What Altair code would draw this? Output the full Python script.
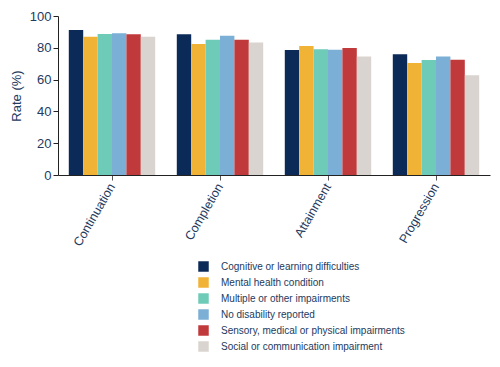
import altair as alt
import pandas as pd

measures = ["Continuation", "Completion", "Attainment", "Progression"]
groups = [
    "Cognitive or learning difficulties",
    "Mental health condition",
    "Multiple or other impairments",
    "No disability reported",
    "Sensory, medical or physical impairments",
    "Social or communication impairment",
]
colors = ["#0c2a57", "#f0b335", "#6ecbb8", "#7bafd6", "#c0393b", "#d9d4cf"]

cognitive = [91.2, 88.5, 78.6, 75.9]
mental = [87.0, 82.4, 81.1, 70.4]
multiple = [88.7, 85.1, 79.1, 72.3]
no_disability = [89.1, 87.6, 78.8, 74.6]
sensory = [88.5, 85.1, 79.9, 72.5]
social = [87.0, 83.4, 74.6, 62.7]

series = [cognitive, mental, multiple, no_disability, sensory, social]
rows = []
for g, vals in zip(groups, series):
    for m, v in zip(measures, vals):
        rows.append({"measure": m, "group": g, "rate": v})
df = pd.DataFrame(rows)

text_color = "#243a5e"
font = "Liberation Sans"

chart = (
    alt.Chart(df)
    .mark_bar()
    .encode(
        x=alt.X(
            "measure:N",
            sort=measures,
            title=None,
            scale=alt.Scale(paddingInner=0.2, paddingOuter=0.1),
            axis=alt.Axis(
                labelAngle=300,
                labelAlign="right",
                labelBaseline="middle",
                labelFontSize=12.5,
                labelColor=text_color,
                domainColor="#222222",
                tickColor="#555555",
                labelPadding=4,
            ),
        ),
        xOffset=alt.XOffset("group:N", sort=groups, scale=alt.Scale(paddingInner=0, paddingOuter=0)),
        y=alt.Y(
            "rate:Q",
            title="Rate (%)",
            scale=alt.Scale(domain=[0, 100]),
            axis=alt.Axis(
                values=[0, 20, 40, 60, 80, 100],
                grid=False,
                labelFontSize=13,
                labelColor=text_color,
                titleFontSize=13,
                titleFontWeight="normal",
                titleColor=text_color,
                titlePadding=6,
                domainColor="#222222",
                tickColor="#222222",
            ),
        ),
        color=alt.Color(
            "group:N",
            sort=groups,
            scale=alt.Scale(domain=groups, range=colors),
            legend=alt.Legend(
                title=None,
                orient="none",
                legendX=140,
                legendY=245,
                symbolType="square",
                symbolSize=110,
                symbolStrokeWidth=0,
                labelFontSize=10,
                labelLimit=0,
                labelColor=text_color,
                rowPadding=5,
                labelOffset=12,
            ),
        ),
    )
    .properties(
        width=432,
        height=159,
        padding={"left": 50, "top": 8, "right": 2, "bottom": 184},
        autosize="none",
    )
    .configure(font=font)
    .configure_view(stroke=None)
    .configure_legend(labelFont=font)
)

chart.save("out.html", embed_options={"renderer": "svg", "actions": False})
